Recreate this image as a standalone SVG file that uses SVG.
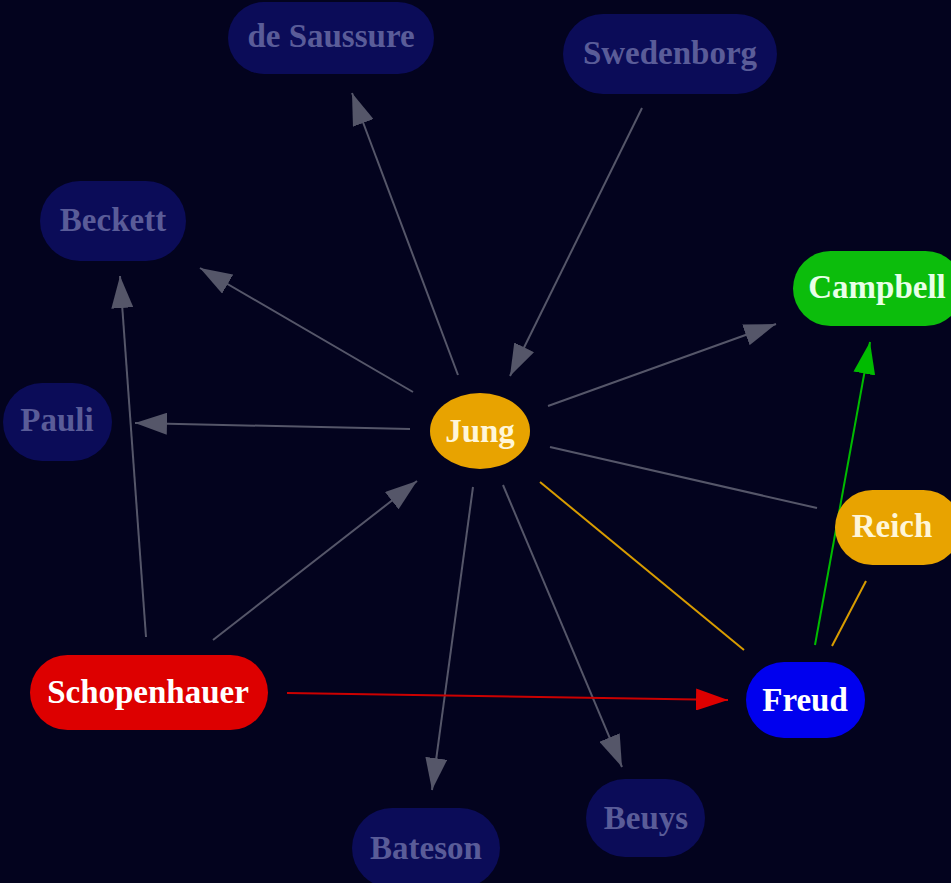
<svg xmlns="http://www.w3.org/2000/svg" width="951" height="883" viewBox="0 0 951 883">
<defs>
<style>
.t{font-family:"Liberation Serif","Times New Roman",serif;font-weight:bold;font-size:33px;text-anchor:middle;dominant-baseline:central}
.dim rect{fill:#0b0c58}
.dim text{fill:#5a5c98}
.e{fill:none;stroke-width:2}
.g{stroke:#555669}
.o{stroke:#d89c00}
.r{stroke:#cc0000}
.gr{stroke:#00bb00}
</style>
<marker id="ag" viewBox="0 0 32 22" refX="32" refY="11" markerWidth="32" markerHeight="22" markerUnits="userSpaceOnUse" orient="auto"><path d="M0,0L32,11L0,22z" fill="#555669"/></marker>
<marker id="ar" viewBox="0 0 32 22" refX="32" refY="11" markerWidth="32" markerHeight="22" markerUnits="userSpaceOnUse" orient="auto"><path d="M0,0L32,11L0,22z" fill="#dd0000"/></marker>
<marker id="agr" viewBox="0 0 32 22" refX="32" refY="11" markerWidth="32" markerHeight="22" markerUnits="userSpaceOnUse" orient="auto"><path d="M0,0L32,11L0,22z" fill="#00bb00"/></marker>
</defs>
<rect width="951" height="883" fill="#03031e"/>
<g id="edges">
<line class="e g" x1="458" y1="375" x2="352" y2="93" marker-end="url(#ag)"/>
<line class="e g" x1="642" y1="108" x2="510" y2="376" marker-end="url(#ag)"/>
<line class="e g" x1="413" y1="392" x2="200" y2="268" marker-end="url(#ag)"/>
<line class="e g" x1="410" y1="429" x2="135" y2="423" marker-end="url(#ag)"/>
<line class="e g" x1="548" y1="406" x2="776" y2="324" marker-end="url(#ag)"/>
<line class="e g" x1="550" y1="447" x2="817" y2="508"/>
<line class="e o" x1="540" y1="482" x2="744" y2="650"/>
<line class="e g" x1="473" y1="487" x2="432" y2="790" marker-end="url(#ag)"/>
<line class="e g" x1="503" y1="485" x2="622" y2="767" marker-end="url(#ag)"/>
<line class="e g" x1="213" y1="640" x2="417" y2="481" marker-end="url(#ag)"/>
<line class="e g" x1="146" y1="637" x2="120" y2="276" marker-end="url(#ag)"/>
<line class="e r" x1="287" y1="693" x2="728" y2="700" marker-end="url(#ar)"/>
<line class="e gr" x1="815" y1="645" x2="870" y2="342" marker-end="url(#agr)"/>
<line class="e o" x1="866" y1="581" x2="832" y2="646"/>
</g>
<g id="deSaussure" class="dim"><rect x="228" y="2" width="206" height="72" rx="36"/><text class="t" x="331" y="36">de Saussure</text></g>
<g id="Swedenborg" class="dim"><rect x="563" y="14" width="214" height="80" rx="40"/><text class="t" x="670" y="53">Swedenborg</text></g>
<g id="Beckett" class="dim"><rect x="40" y="181" width="146" height="80" rx="40"/><text class="t" x="113" y="220">Beckett</text></g>
<g id="Pauli" class="dim"><rect x="3" y="383" width="109" height="78" rx="39"/><text class="t" x="57" y="420">Pauli</text></g>
<g id="Bateson" class="dim"><rect x="352" y="808" width="148" height="80" rx="40"/><text class="t" x="426" y="848">Bateson</text></g>
<g id="Beuys" class="dim"><rect x="586" y="779" width="119" height="78" rx="39"/><text class="t" x="646" y="818">Beuys</text></g>
<g id="Jung"><ellipse cx="480" cy="431" rx="50" ry="38" fill="#e8a300"/><text class="t" x="480" y="431" fill="#fff6d8">Jung</text></g>
<g id="Campbell"><rect x="793" y="251" width="170" height="75" rx="37.5" fill="#0cbd0c"/><text class="t" x="877" y="287" fill="#e8ffe8">Campbell</text></g>
<g id="Reich"><rect x="835" y="490" width="126" height="75" rx="37.5" fill="#e8a300"/><text class="t" x="892" y="526" fill="#fff6d8">Reich</text></g>
<g id="Freud"><rect x="746" y="662" width="119" height="76" rx="38" fill="#0000ee"/><text class="t" x="805" y="700" fill="#ffffff">Freud</text></g>
<g id="Schopenhauer"><rect x="30" y="655" width="238" height="75" rx="37.5" fill="#dd0000"/><text class="t" x="148" y="692" fill="#ffffff">Schopenhauer</text></g>
</svg>
